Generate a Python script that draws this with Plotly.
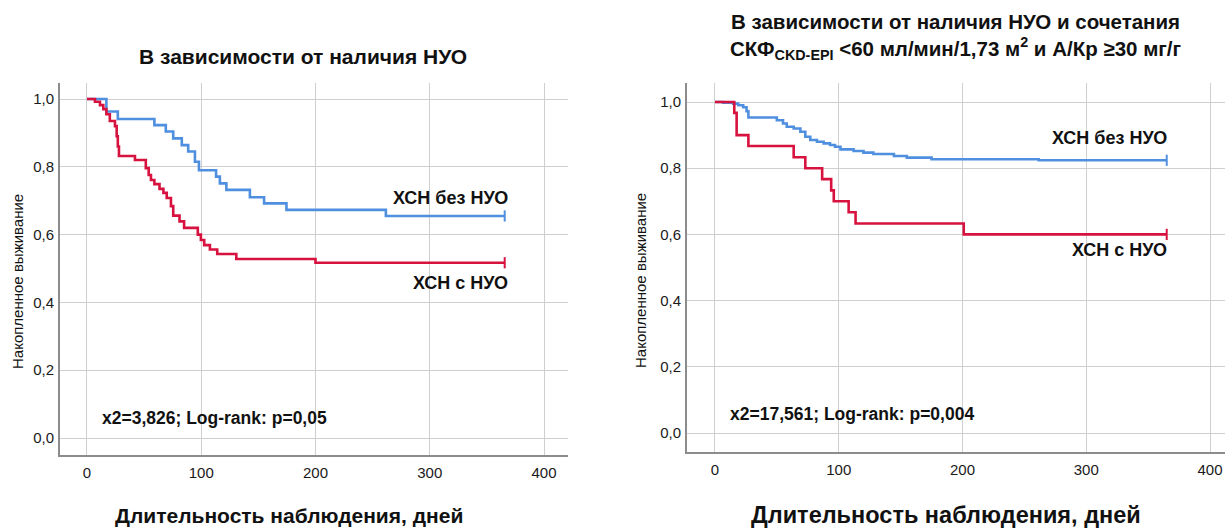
import plotly.graph_objects as go

# ---------------- data ----------------
# Left panel: "В зависимости от наличия НУО"
left_blue_days = [0, 17, 27, 59, 69, 75.5, 83, 88.6, 94.5, 98, 113, 116.3, 122, 142.6, 155, 174.6, 261.6, 365.6]
left_blue_surv = [1.0, 0.963, 0.941, 0.923, 0.904, 0.884, 0.864, 0.845, 0.815, 0.79, 0.771, 0.751, 0.732, 0.71, 0.692, 0.673, 0.655, 0.655]

left_red_days = [0, 7, 11.4, 14.3, 17, 20, 24.5, 26, 27, 28, 42, 51.5, 54, 56, 59, 63.5, 66.9, 69.8, 73.5, 75.5, 81, 85, 97, 99.7, 102.6, 107.6, 114, 130.7, 200, 365.6]
left_red_surv = [1.0, 0.992, 0.982, 0.97, 0.955, 0.935, 0.92, 0.89, 0.86, 0.832, 0.82, 0.796, 0.776, 0.761, 0.749, 0.735, 0.723, 0.708, 0.684, 0.656, 0.639, 0.62, 0.60, 0.584, 0.569, 0.556, 0.543, 0.528, 0.517, 0.517]

# Right panel: НУО + СКФ<60 и А/Кр>=30
right_blue_days = [0, 6.7, 14.7, 18.8, 22.8, 25.5, 27, 50, 55, 58, 63.6, 69, 73, 77, 82.4, 87.8, 93, 97, 101.4, 112, 120, 128, 144.6, 155, 175, 261.6, 365]
right_blue_surv = [1.0, 0.998, 0.995, 0.99, 0.984, 0.972, 0.953, 0.945, 0.935, 0.925, 0.92, 0.91, 0.895, 0.885, 0.88, 0.875, 0.87, 0.865, 0.857, 0.852, 0.847, 0.843, 0.837, 0.832, 0.827, 0.824, 0.824]

right_red_days = [0, 15.6, 17.5, 27, 63.6, 73, 86.6, 93.9, 96, 108, 113.6, 201, 365]
right_red_surv = [1.0, 0.967, 0.9, 0.867, 0.833, 0.8, 0.767, 0.733, 0.7, 0.667, 0.633, 0.6, 0.6]

x_ticks = [0, 100, 200, 300, 400]
y_ticks = [0.0, 0.2, 0.4, 0.6, 0.8, 1.0]
y_tick_text = ["0,0", "0,2", "0,4", "0,6", "0,8", "1,0"]

label_without = "ХСН без НУО"
label_with = "ХСН с НУО"
title_left = "В зависимости от наличия НУО"
title_right = ("В зависимости от наличия НУО и сочетания<br>"
               "СКФ<sub>CKD-EPI</sub> &lt;60 мл/мин/1,73 м<sup>2</sup> и А/Кр ≥30 мг/г")
stat_left = "x2=3,826; Log-rank: p=0,05"
stat_right = "x2=17,561; Log-rank: p=0,004"
x_title = "Длительность наблюдения, дней"
y_title = "Накопленное выживание"

BLUE = "#4F8FE0"
RED = "#D7123F"
FONT = "Liberation Sans, Arial, sans-serif"
W, H = 1231, 530

fig = go.Figure()

def add_curve(days, surv, color, xa, ya):
    fig.add_trace(go.Scatter(x=days, y=surv, mode="lines", line=dict(color=color, width=2.6, shape="hv"),
                             xaxis=xa, yaxis=ya, showlegend=False, hoverinfo="skip"))
    fig.add_trace(go.Scatter(x=[days[-1]], y=[surv[-1]], mode="markers",
                             marker=dict(symbol="line-ns", size=8, line=dict(color=color, width=2)),
                             xaxis=xa, yaxis=ya, showlegend=False, hoverinfo="skip"))

add_curve(left_blue_days, left_blue_surv, BLUE, "x", "y")
add_curve(left_red_days, left_red_surv, RED, "x", "y")
add_curve(right_blue_days, right_blue_surv, BLUE, "x2", "y2")
add_curve(right_red_days, right_red_surv, RED, "x2", "y2")

axis_common = dict(showgrid=True, gridcolor="#CFCFCF", gridwidth=1.3, zeroline=False,
                   showline=True, linecolor="#8C8C8C", linewidth=2, ticks="",
                   tickfont=dict(family=FONT, size=15, color="#1a1a1a"))

fig.update_layout(
    width=W, height=H, margin=dict(l=0, r=0, t=0, b=0),
    paper_bgcolor="white", plot_bgcolor="white", showlegend=False,
    xaxis=dict(domain=[60 / W, 568 / W], range=[-23.6, 421], tickvals=x_ticks, anchor="y",
               ticklabelstandoff=3, **axis_common),
    yaxis=dict(domain=[1 - 455 / H, 1 - 83 / H], range=[-0.0501, 1.0472], tickvals=y_ticks,
               ticktext=y_tick_text, anchor="x", ticklabelstandoff=1, **axis_common),
    xaxis2=dict(domain=[687 / W, 1225 / W], range=[-22.6, 412.1], tickvals=x_ticks, anchor="y2",
                ticklabelstandoff=3, **axis_common),
    yaxis2=dict(domain=[1 - 452 / H, 1 - 83 / H], range=[-0.0574, 1.0574], tickvals=y_ticks,
                ticktext=y_tick_text, anchor="x2", ticklabelstandoff=1, **axis_common),
)

def bold(t):
    return "<b>" + t + "</b>"

TXT = "#111"
ann = []
# curve labels and statistics
ann += [
    dict(x=370, y=0.708, xref="x", yref="y", text=bold(label_without), showarrow=False, xanchor="right", yanchor="middle",
         font=dict(family=FONT, size=18, color=TXT)),
    dict(x=370, y=0.457, xref="x", yref="y", text=bold(label_with), showarrow=False, xanchor="right", yanchor="middle",
         font=dict(family=FONT, size=18, color=TXT)),
    dict(x=366.5, y=0.891, xref="x2", yref="y2", text=bold(label_without), showarrow=False, xanchor="right", yanchor="middle",
         font=dict(family=FONT, size=18, color=TXT)),
    dict(x=366.5, y=0.553, xref="x2", yref="y2", text=bold(label_with), showarrow=False, xanchor="right", yanchor="middle",
         font=dict(family=FONT, size=18, color=TXT)),
    dict(x=11.4, y=0.059, xref="x", yref="y", text=bold(stat_left), showarrow=False, xanchor="left", yanchor="middle",
         font=dict(family=FONT, size=17.5, color=TXT)),
    dict(x=10.5, y=0.057, xref="x2", yref="y2", text=bold(stat_right), showarrow=False, xanchor="left", yanchor="middle",
         font=dict(family=FONT, size=17.5, color=TXT)),
]
# titles
ann += [
    dict(x=303 / W, y=1 - 57 / H, xref="paper", yref="paper", text=bold(title_left), showarrow=False,
         xanchor="center", yanchor="middle", font=dict(family=FONT, size=21, color=TXT)),
    dict(x=955 / W, y=1 - 37 / H, xref="paper", yref="paper", text=bold(title_right), showarrow=False,
         xanchor="center", yanchor="middle", align="center", font=dict(family=FONT, size=20.5, color=TXT)),
]
# axis titles
ann += [
    dict(x=289 / W, y=1 - 515 / H, xref="paper", yref="paper", text=bold(x_title), showarrow=False,
         xanchor="center", yanchor="middle", font=dict(family=FONT, size=21, color=TXT)),
    dict(x=946 / W, y=1 - 515 / H, xref="paper", yref="paper", text=bold(x_title), showarrow=False,
         xanchor="center", yanchor="middle", font=dict(family=FONT, size=23.5, color=TXT)),
    dict(x=17 / W, y=1 - 282 / H, xref="paper", yref="paper", text=y_title, textangle=-90, showarrow=False,
         xanchor="center", yanchor="middle", font=dict(family=FONT, size=15, color=TXT)),
    dict(x=640 / W, y=1 - 280 / H, xref="paper", yref="paper", text=y_title, textangle=-90, showarrow=False,
         xanchor="center", yanchor="middle", font=dict(family=FONT, size=15, color=TXT)),
]
fig.update_layout(annotations=ann)

fig.write_html("out.html")
